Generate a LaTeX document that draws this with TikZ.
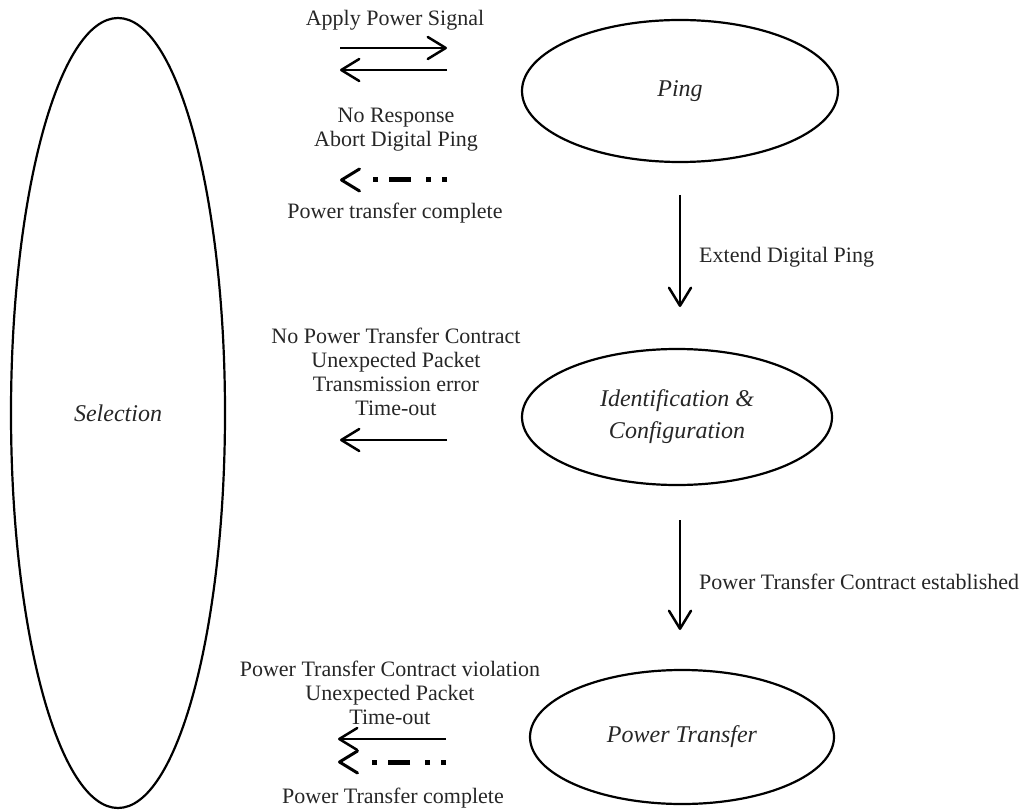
\documentclass[tikz,border=0pt]{standalone}
\usepackage{fontspec}
\setmainfont{Liberation Serif}
\usetikzlibrary{positioning,shapes,arrows.meta}

\begin{document}
\begin{tikzpicture}[x=1pt,y=-1pt,font=\fontsize{22}{24}\selectfont,text=black!85,
                    state/.style={ellipse,draw,line width=2.2pt,inner sep=0pt,align=center,
                                  font=\fontsize{24}{32}\selectfont\itshape},
                    lbl/.style={align=center,inner sep=0pt},
                    move/.style={line width=2.5pt,-{Straight Barb[length=18pt,width=22pt,round]}},
                    done/.style={line width=5pt,
                                 dash pattern=on 5pt off 11pt on 5pt off 15pt on 22pt off 11pt on 5pt off 40pt,
                                 -{Straight Barb[length=18pt,width=22pt,round,line width=3pt]}}
                   ]
  \useasboundingbox (0,0) rectangle (1030,810);
  % phases
  \node[state,minimum width=214pt,minimum height=790pt] (sel) at (118,413) {Selection};
  \node[state,minimum width=316pt,minimum height=142pt] (ping) at (680,91) {Ping};
  \node[state,minimum width=310pt,minimum height=136pt] (ident) at (677,417) {Identification \&\\Configuration};
  \node[state,minimum width=304pt,minimum height=134pt] (power) at (682,737) {Power Transfer};
  % arrow ends
  \coordinate (a1) at (340,48);   \coordinate (b1) at (447,48);
  \coordinate (a2) at (340,70);   \coordinate (b2) at (447,70);
  \coordinate (a3) at (340,180);  \coordinate (b3) at (447,180);
  \coordinate (a4) at (340,440);  \coordinate (b4) at (447,440);
  \coordinate (a5) at (338,739);  \coordinate (b5) at (446,739);
  \coordinate (a6) at (338,762);  \coordinate (b6) at (446,762);
  \coordinate (c1) at (680,195);  \coordinate (d1) at (680,307);
  \coordinate (c2) at (680,520);  \coordinate (d2) at (680,630);
  % labels
  \node[lbl] (apply) at (395,20) {Apply Power Signal};
  \node[lbl] (noresp) at (396,130) {No Response\\Abort Digital Ping};
  \node[lbl] (pdone) at (395,213) {Power transfer complete};
  \node[lbl,anchor=west] (ext) at (699,257) {Extend Digital Ping};
  \node[lbl] (nocon) at (396,372) {No Power Transfer Contract\\Unexpected Packet\\Transmission error\\Time-out};
  \node[lbl,anchor=west] (est) at (699,582) {Power Transfer Contract established};
  \node[lbl] (viol) at (390,693) {Power Transfer Contract violation\\Unexpected Packet\\Time-out};
  \node[lbl] (xdone) at (393,798) {Power Transfer complete};
    \path%
      (a1) edge [move] (b1)
      (b2) edge [move] (a2)
      (b3) edge [done] (a3)
      (b4) edge [move] (a4)
      (b5) edge [move] (a5)
      (b6) edge [done] (a6)
      (c1) edge [move] (d1)
      (c2) edge [move] (d2);
   \end{tikzpicture}
\end{document}
